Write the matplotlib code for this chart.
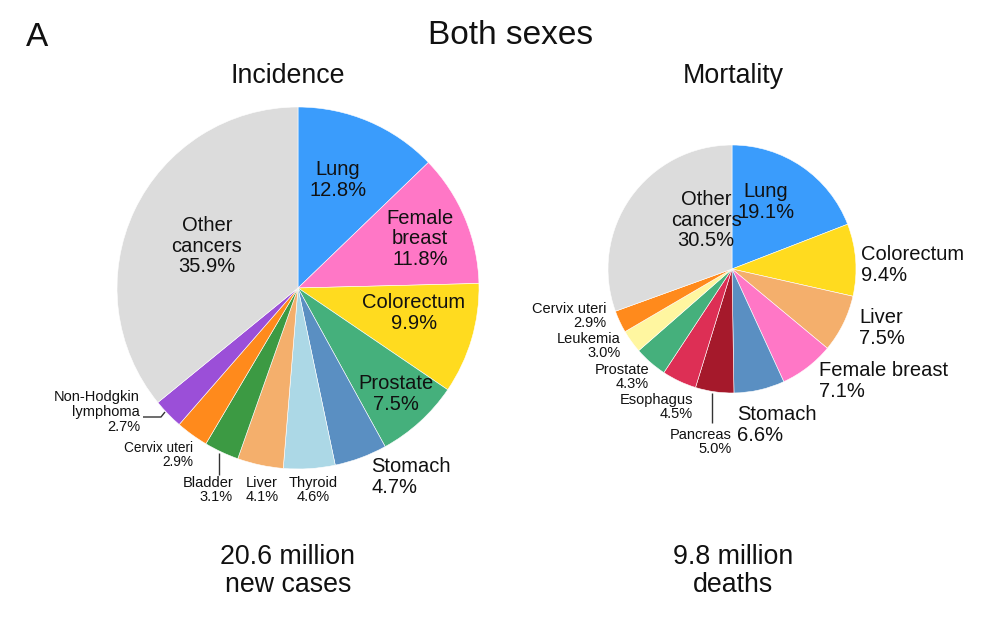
import matplotlib.pyplot as plt
import matplotlib as mpl

mpl.rcParams['font.family'] = ['Liberation Sans', 'DejaVu Sans']

# data: share of cases / deaths (%), clockwise from 12 o'clock
inc_labels = ['Lung', 'Female\nbreast', 'Colorectum', 'Prostate', 'Stomach', 'Thyroid',
              'Liver', 'Bladder', 'Cervix uteri', 'Non-Hodgkin\nlymphoma', 'Other\ncancers']
inc_values = [12.8, 11.8, 9.9, 7.5, 4.7, 4.6, 4.1, 3.1, 2.9, 2.7, 35.9]
inc_colors = ['#3a9cfc', '#ff77c6', '#ffdb1f', '#45b07c', '#5a8fc2', '#acd8e6',
              '#f4af6c', '#3c9a43', '#ff8a1c', '#9b4fd8', '#dcdcdc']

mort_labels = ['Lung', 'Colorectum', 'Liver', 'Female breast', 'Stomach', 'Pancreas',
               'Esophagus', 'Prostate', 'Leukemia', 'Cervix uteri', 'Other\ncancers']
mort_values = [19.1, 9.4, 7.5, 7.1, 6.6, 5.0, 4.5, 4.3, 3.0, 2.9, 30.5]
mort_colors = ['#3a9cfc', '#ffdb1f', '#f4af6c', '#ff77c6', '#5a8fc2', '#a5192b',
               '#dd2f55', '#45b07c', '#fff6a0', '#ff8a1c', '#dcdcdc']

W, H = 1000, 618

# label layout in image pixels: (x, y, fontsize, ha)
inc_pos = [(338, 180, 14.5, 'center'), (420, 239, 14.5, 'center'), (414, 313, 14.5, 'center'),
           (396, 394, 14.5, 'center'), (371, 477, 14.5, 'left'), (313, 490, 10.5, 'center'),
           (262, 490, 10.5, 'center'), (233, 490, 10.5, 'right'), (193, 455, 9.8, 'right'),
           (140, 412, 10.5, 'right'), (207, 246, 14.5, 'center')]
mort_pos = [(766, 202, 14.5, 'center'), (861, 265, 14.5, 'left'), (859, 328, 14.5, 'left'),
            (819, 381, 14.5, 'left'), (737, 425, 14.5, 'left'), (732, 442, 10.5, 'right'),
            (693, 407, 10.5, 'right'), (649, 377, 10.5, 'right'), (621, 346, 10.5, 'right'),
            (606, 316, 10.5, 'right'), (706, 220, 14.5, 'center')]

fig = plt.figure(figsize=(10, 6.18), dpi=100)
ax = fig.add_axes([0, 0, 1, 1])


def put(x, y, s, size, ha='center', color='#111111'):
    ax.text(x, H - y, s, ha=ha, va='center', fontsize=size, linespacing=1.08, color=color)


def leader(xs, ys):
    ax.plot(xs, [H - y for y in ys], color='#333333', lw=1.0, solid_capstyle='butt')


for values, colors, labels, pos, cx, cy, r in [
        (inc_values, inc_colors, inc_labels, inc_pos, 298, 288, 181),
        (mort_values, mort_colors, mort_labels, mort_pos, 732, 269, 124)]:
    ax.pie(values, colors=colors, startangle=90, counterclock=False, radius=r,
           center=(cx, H - cy), frame=True,
           wedgeprops=dict(edgecolor='white', linewidth=0.4))
    for lab, v, (x, y, fs, ha) in zip(labels, values, pos):
        put(x, y, f'{lab}\n{v:.1f}%', fs, ha)

# leader lines
leader([219, 219], [453, 475])
leader([143, 161, 165], [417, 417, 412])
leader([712, 712], [393, 423])

# titles
put(37, 37, 'A', 24)
put(511, 36, 'Both sexes', 24)
put(288, 76, 'Incidence', 19.3)
put(733, 76, 'Mortality', 19.3)
put(288, 571, '20.6 million\nnew cases', 19.3)
put(733, 571, '9.8 million\ndeaths', 19.3)

ax.set_xlim(0, W)
ax.set_ylim(0, H)
ax.set_aspect('equal')
ax.axis('off')

plt.savefig('out.png', dpi=100)
